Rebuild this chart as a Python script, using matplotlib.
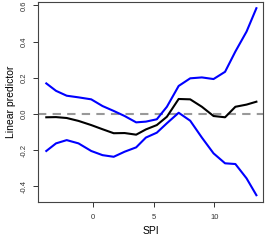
import matplotlib
matplotlib.use("Agg")
import matplotlib.pyplot as plt

# ── Data ──────────────────────────────────────────────────────────────────────
spi = [-3.85, -3.05, -2.17, -1.2, -0.15, 0.78, 1.7, 2.6, 3.55, 4.35,
       5.25, 6.08, 7.05, 8.0, 8.96, 9.92, 10.87, 11.72, 12.64, 13.45]

fit = [-0.018, -0.017, -0.022, -0.038, -0.061, -0.084, -0.106, -0.105, -0.114, -0.085,
       -0.061, -0.015, 0.083, 0.081, 0.040, -0.011, -0.018, 0.040, 0.052, 0.068]

upper = [0.169, 0.128, 0.101, 0.092, 0.081, 0.044, 0.017, -0.011, -0.046, -0.042,
         -0.029, 0.040, 0.155, 0.197, 0.202, 0.193, 0.233, 0.345, 0.455, 0.584]

lower = [-0.204, -0.162, -0.144, -0.162, -0.204, -0.227, -0.236, -0.208, -0.184, -0.130,
         -0.103, -0.051, 0.007, -0.037, -0.130, -0.217, -0.272, -0.276, -0.355, -0.448]

x_ticks = [0, 5, 10]
y_ticks = [-0.4, -0.2, 0.0, 0.2, 0.4, 0.6]

# ── Plot ──────────────────────────────────────────────────────────────────────
plt.rcParams["font.family"] = ["Liberation Sans", "DejaVu Sans"]

fig = plt.figure(figsize=(2.66, 2.40), dpi=100)
ax = fig.add_axes([0.143, 0.158, 0.846, 0.835])

ax.axhline(0, color="#999999", linestyle=(0, (4, 3)), linewidth=1.5)
ax.plot(spi, upper, color="#0000FF", linewidth=1.5)
ax.plot(spi, lower, color="#0000FF", linewidth=1.5)
ax.plot(spi, fit, color="black", linewidth=1.5)

ax.set_xlim(-4.53, 14.0)
ax.set_ylim(-0.486, 0.62)
ax.set_xticks(x_ticks)
ax.set_yticks(y_ticks)
ax.set_xticklabels([str(t) for t in x_ticks])
ax.set_yticklabels(["%.1f" % t for t in y_ticks], rotation=90, va="center")
ax.tick_params(labelsize=5.5, length=3.5, width=0.7, colors="#333333")
ax.tick_params(axis="x", pad=5)
ax.tick_params(axis="y", pad=4)

for s in ax.spines.values():
    s.set_linewidth(0.8)
    s.set_color("#444444")

ax.set_xlabel("SPI", fontsize=7.5, labelpad=4)
ax.set_ylabel("Linear predictor", fontsize=7.5, labelpad=3)

fig.savefig("out.png", dpi=100)
